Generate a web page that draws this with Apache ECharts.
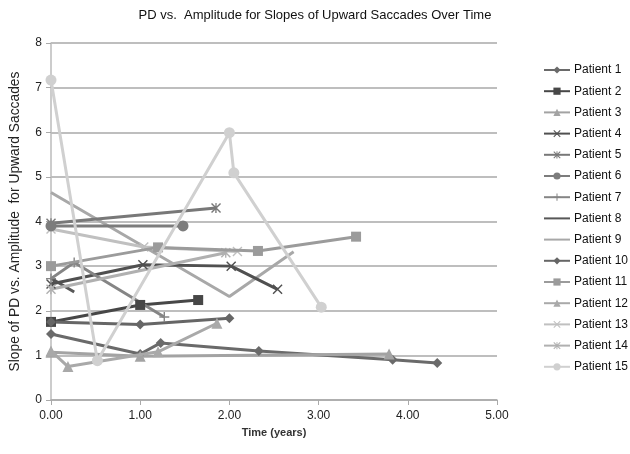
<!DOCTYPE html>
<html><head><meta charset="utf-8">
<script src="https://cdn.jsdelivr.net/npm/echarts@6/dist/echarts.min.js"></script>
<style>html,body{margin:0;padding:0;background:#fff}#c{width:630px;height:454px}</style>
</head><body><div id="c"></div>
<script>
const seriesNames = ["Patient 1","Patient 2","Patient 3","Patient 4","Patient 5","Patient 6","Patient 7","Patient 8","Patient 9","Patient 10","Patient 11","Patient 12","Patient 13","Patient 14","Patient 15"];
const p1 = [[0,1.48],[1.0,1.03],[1.23,1.28],[2.33,1.1],[3.83,0.9],[4.33,0.83]];
const p2 = [[0,1.75],[1.0,2.13],[1.65,2.24]];
const p3 = [[0,1.07],[1.0,0.98],[3.79,1.03]];
const p4 = [[0,2.6],[1.03,3.03],[2.02,3.0],[2.54,2.48]];
const p5 = [[0,3.96],[1.85,4.3]];
const p6 = [[0,3.9],[1.48,3.9]];
const p7 = [[0,2.72],[0.26,3.08],[1.27,1.86]];
const p8 = [[0,2.73],[0.26,2.42]];
const p9 = [[0,4.65],[2.0,2.32],[2.72,3.32]];
const p10 = [[0,1.75],[1.0,1.69],[2.0,1.83]];
const p11 = [[0,3.0],[1.2,3.42],[2.32,3.34],[3.42,3.66]];
const p12 = [[0,1.1],[0.19,0.75],[1.2,1.08],[1.86,1.72]];
const p13 = [[0,3.83],[1.04,3.43],[2.09,3.33]];
const p14 = [[0,2.48],[1.96,3.3]];
const p15 = [[0,7.17],[0.52,0.88],[2.0,5.99],[2.05,5.09],[3.03,2.08]];
const seriesData = [p1,p2,p3,p4,p5,p6,p7,p8,p9,p10,p11,p12,p13,p14,p15];
const titleText = "PD vs.  Amplitude for Slopes of Upward Saccades Over Time";
const xTitle = "Time (years)";
const yTitle = "Slope of PD vs. Amplitude  for Upward Saccades";

const PLUS = 'path://M0,4.3h10v1.4h-10z M4.3,0h1.4v10h-1.4z';
const XM = 'path://M0,1L1,0L10,9L9,10Z M9,0L10,1L1,10L0,9Z';
const AST = 'path://M0,1L1,0L10,9L9,10Z M9,0L10,1L1,10L0,9Z M4.4,0h1.2v10h-1.4z';
const styles = [
  {c:'#6a6a6a', s:'diamond', z:10},
  {c:'#474747', s:'rect', z:10},
  {c:'#a3a3a3', s:'triangle', z:10},
  {c:'#505050', s:XM, z:10},
  {c:'#787878', s:AST, z:10},
  {c:'#7c7c7c', s:'circle', z:11},
  {c:'#858585', s:PLUS, z:10},
  {c:'#575757', s:'none', z:0},
  {c:'#a8a8a8', s:'none', z:0},
  {c:'#666666', s:'diamond', z:10},
  {c:'#9b9b9b', s:'rect', z:11},
  {c:'#a9a9a9', s:'triangle', z:11},
  {c:'#c0c0c0', s:XM, z:10},
  {c:'#b0b0b0', s:AST, z:10},
  {c:'#d0d0d0', s:'circle', z:12}
];
const FONT = 'Liberation Sans, Arial, sans-serif';
const chart = echarts.init(document.getElementById('c'), null, {renderer:'canvas'});
chart.setOption({
  animation:false,
  backgroundColor:'#fff',
  title:{text:titleText, left:310, top:4, textAlign:'center',
    textStyle:{fontFamily:FONT, fontSize:13, fontWeight:'normal', color:'#111'}},
  grid:{left:50, right:133, top:43, bottom:54},
  legend:{orient:'vertical', left:543, top:64, padding:0, itemWidth:26, itemHeight:9, itemGap:9.2,
    textStyle:{fontFamily:FONT, fontSize:12, color:'#111', padding:[0,0,0,-1]},
    data:seriesNames.map((n,i)=> styles[i].s==='none'
      ? {name:n, itemStyle:{color:'rgba(0,0,0,0)', borderWidth:0}} : {name:n})},
  xAxis:{type:'value', min:0, max:5, interval:1,
    name:xTitle, nameLocation:'middle', nameGap:27,
    nameTextStyle:{fontFamily:FONT, fontSize:11, fontWeight:'bold', color:'#333'},
    axisLine:{show:true, lineStyle:{color:'#aaa', width:1.5}},
    axisTick:{show:true, inside:false, length:5, lineStyle:{color:'#aaa'}},
    axisLabel:{fontFamily:FONT, fontSize:12, color:'#222', formatter:v=>v.toFixed(2), margin:10},
    splitLine:{show:false}},
  yAxis:{type:'value', min:0, max:8, interval:1,
    name:yTitle, nameLocation:'middle', nameGap:29, nameRotate:90,
    nameTextStyle:{fontFamily:FONT, fontSize:13.8, color:'#222'},
    axisLine:{show:true, lineStyle:{color:'#bbb', width:1.5}},
    axisTick:{show:true, length:5, lineStyle:{color:'#aaa'}},
    axisLabel:{fontFamily:FONT, fontSize:12, color:'#222', margin:9},
    splitLine:{show:true, lineStyle:{color:'#a9a9a9', width:1.5}}},
  series: seriesData.map((d,i)=>({
    name:seriesNames[i], type:'line', data:d, z:styles[i].z,
    symbol:styles[i].s, symbolSize: styles[i].s==='circle'?11:(styles[i].s==='triangle'?11:10),
    showSymbol: styles[i].s!=='none',
    lineStyle:{color:styles[i].c, width:3},
    itemStyle:{color:styles[i].c, borderWidth:0},
    emphasis:{disabled:true}
  }))
});
</script></body></html>
